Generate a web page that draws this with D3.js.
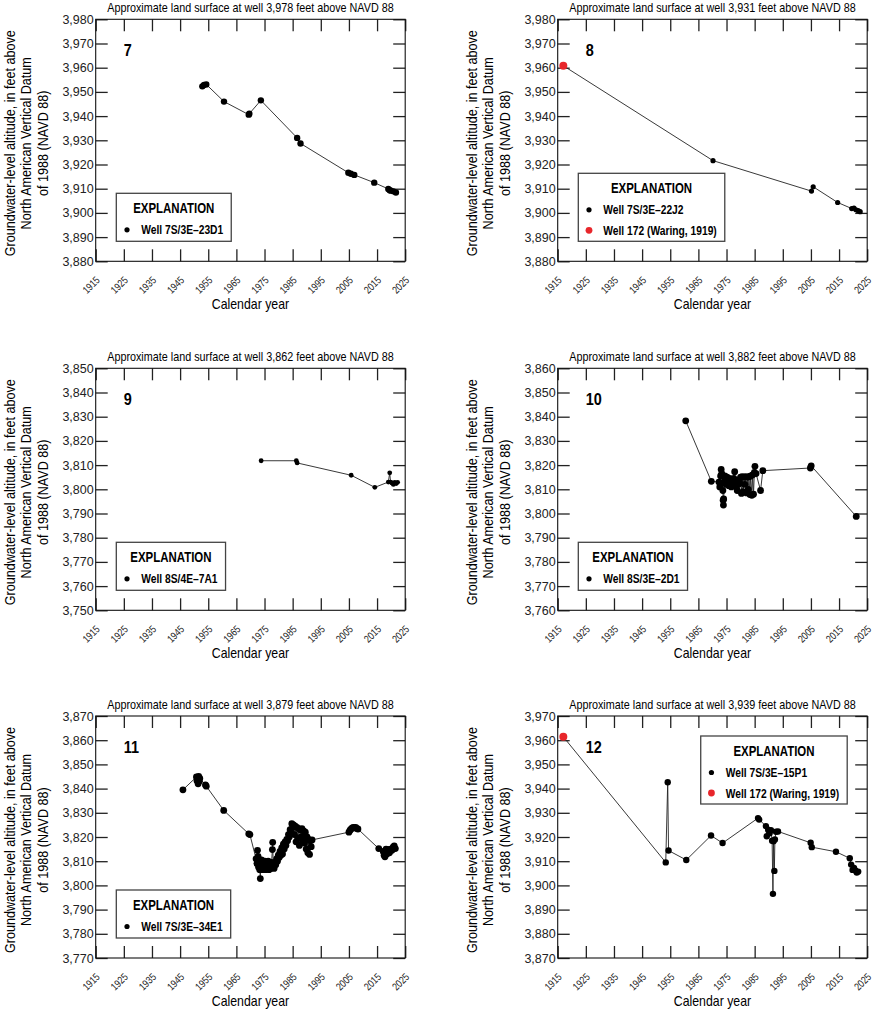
<!DOCTYPE html>
<meta charset="utf-8">
<title>Groundwater-level altitude, wells 7 to 12</title>
<style>

body {
  margin: 0px;
  background: #fff;
}

svg {
  display: block;
  font-family: "Liberation Sans", Arial, sans-serif;
}

.frame {
  fill: none;
  stroke: #111;
  stroke-width: 1.1;
}

.axis path {
  display: none;
}

.axis line {
  stroke: #222;
  stroke-width: 1.3;
}

.axis text {
  fill: #222;
}

.hydro {
  fill: none;
  stroke: #222;
  stroke-width: 0.9;
}

.legend rect {
  fill: #fff;
  stroke: #444;
  stroke-width: 1.3;
}

</style>
<body>
<script src="https://cdnjs.cloudflare.com/ajax/libs/d3/7.8.5/d3.min.js"></script>
<script>

var width = 877, height = 1012;

// x axis: calendar years
var yearTicks = [1915, 1925, 1935, 1945, 1955, 1965, 1975, 1985, 1995, 2005, 2015, 2025];

// land-surface altitude, feet above NAVD 88
var landSurface = ["3,978", "3,931", "3,862", "3,882", "3,879", "3,939"];

// y ranges, feet above NAVD 88
var yRanges = [[3880, 3980], [3880, 3980], [3750, 3850], [3760, 3860], [3770, 3870], [3870, 3970]];

var wellNames = ["Well 7S/3E\u201323D1", "Well 7S/3E\u201322J2", "Well 8S/4E\u20137A1",
                 "Well 8S/3E\u20132D1", "Well 7S/3E\u201334E1", "Well 7S/3E\u201315P1"];
var waringName = "Well 172 (Waring, 1919)";

// [year, altitude]
var well7 = [
  [1952.9, 3952.3], [1953.5, 3952.9], [1954.3, 3953.1], [1960.6, 3946.0],
  [1969.4, 3940.6], [1969.6, 3941.0], [1973.7, 3946.5], [1986.6, 3931.0],
  [1987.8, 3928.7], [2004.8, 3916.6], [2005.7, 3916.2], [2006.9, 3915.7],
  [2014.0, 3912.5], [2019.0, 3909.9], [2019.5, 3909.4], [2019.9, 3909.2],
  [2020.8, 3908.9], [2021.7, 3908.4]
];

var well8 = [
  [1970.2, 3921.6], [2005.2, 3909.0], [2005.8, 3910.8], [2014.5, 3904.3],
  [2019.5, 3901.8], [2020.3, 3902.0], [2021.0, 3901.3], [2021.8, 3900.9],
  [2022.5, 3900.5]
];
var waring8 = [[1917.0, 3960.8]];

var well9 = [
  [1973.8, 3811.8], [1986.3, 3811.8], [1986.6, 3810.9], [2005.8, 3805.8],
  [2014.2, 3800.8], [2019.0, 3803.0], [2019.5, 3806.8], [2019.8, 3803.0],
  [2020.3, 3802.6], [2020.8, 3802.0], [2021.3, 3802.8], [2021.8, 3802.4],
  [2022.3, 3802.9]
];

var well10 = [
  [1960.5, 3838.3], [1969.6, 3813.3], [1972.3, 3813.0], [1972.6, 3811.0],
  [1972.9, 3815.5], [1973.1, 3818.2], [1973.3, 3816.5], [1973.5, 3812.5],
  [1973.7, 3809.5], [1973.8, 3805.5], [1973.9, 3803.5], [1974.0, 3806.0],
  [1974.2, 3813.0], [1974.4, 3815.5], [1974.6, 3814.0], [1974.9, 3812.0],
  [1975.2, 3815.0], [1975.5, 3813.5], [1975.8, 3811.5], [1976.1, 3814.5],
  [1976.4, 3813.0], [1976.7, 3811.0], [1977.0, 3813.5], [1977.3, 3812.0],
  [1977.6, 3814.5], [1977.9, 3817.3], [1978.2, 3813.0], [1978.5, 3811.0],
  [1978.8, 3809.5], [1979.1, 3812.0], [1979.4, 3814.0], [1979.7, 3812.5],
  [1980.0, 3815.0], [1980.3, 3808.3], [1980.6, 3815.2], [1980.9, 3809.0],
  [1981.2, 3815.0], [1981.5, 3812.0], [1981.8, 3815.2], [1982.1, 3808.5],
  [1982.4, 3815.0], [1982.7, 3810.0], [1983.0, 3815.2], [1983.3, 3807.8],
  [1983.6, 3815.5], [1984.0, 3807.5], [1984.3, 3816.0], [1984.6, 3808.0],
  [1984.9, 3817.0], [1985.1, 3819.5], [1985.5, 3816.5], [1987.1, 3809.5],
  [1987.9, 3817.7], [2004.8, 3818.8], [2005.1, 3819.7], [2021.1, 3798.8]
];

var well11 = [
  [1946.0, 3839.5], [1950.8, 3844.8], [1951.0, 3843.2], [1951.2, 3844.5],
  [1951.4, 3842.0], [1951.6, 3845.0], [1951.8, 3843.0], [1952.0, 3844.2],
  [1954.0, 3841.5], [1954.3, 3841.0], [1960.5, 3831.0], [1969.4, 3821.3],
  [1969.8, 3821.0], [1972.0, 3811.0], [1972.3, 3809.0], [1972.5, 3814.5],
  [1972.7, 3812.0], [1972.9, 3807.5], [1973.1, 3810.5], [1973.3, 3806.5],
  [1973.5, 3802.8], [1973.7, 3808.0], [1973.9, 3810.5], [1974.2, 3806.5],
  [1974.5, 3809.5], [1974.8, 3807.0], [1975.1, 3810.0], [1975.4, 3806.5],
  [1975.7, 3809.0], [1976.0, 3807.0], [1976.3, 3810.0], [1976.6, 3806.5],
  [1976.9, 3808.5], [1977.2, 3807.0], [1977.5, 3809.5], [1977.8, 3814.8],
  [1977.9, 3817.8], [1978.1, 3808.0], [1978.4, 3807.0], [1978.7, 3809.5],
  [1979.0, 3808.5], [1979.3, 3811.0], [1979.6, 3810.0], [1979.9, 3812.5],
  [1980.2, 3811.5], [1980.5, 3814.0], [1980.8, 3812.5], [1981.1, 3815.5],
  [1981.4, 3813.0], [1981.7, 3817.0], [1982.0, 3815.0], [1982.3, 3818.0],
  [1982.6, 3816.5], [1982.9, 3819.0], [1983.2, 3818.5], [1983.5, 3821.0],
  [1983.8, 3820.0], [1984.1, 3823.0], [1984.4, 3822.0], [1984.7, 3825.5],
  [1985.0, 3824.0], [1985.3, 3825.0], [1985.6, 3821.0], [1985.9, 3824.5],
  [1986.2, 3818.0], [1986.5, 3824.0], [1986.8, 3819.5], [1987.1, 3823.5],
  [1987.4, 3816.5], [1987.7, 3823.0], [1988.0, 3820.0], [1988.3, 3823.5],
  [1988.6, 3818.0], [1988.9, 3822.5], [1989.2, 3817.5], [1989.5, 3822.0],
  [1989.8, 3815.0], [1990.1, 3820.0], [1990.4, 3813.5], [1990.7, 3819.0],
  [1991.0, 3812.8], [1991.3, 3818.5], [1991.6, 3816.0], [1991.9, 3818.8],
  [2005.0, 3822.0], [2005.4, 3822.8], [2005.8, 3823.3], [2006.2, 3823.8],
  [2006.6, 3824.0], [2007.0, 3823.8], [2007.4, 3824.0], [2007.8, 3823.5],
  [2008.2, 3823.3], [2015.6, 3815.2], [2017.2, 3814.0], [2017.5, 3812.5],
  [2017.8, 3811.8], [2018.2, 3815.0], [2018.5, 3813.0], [2019.0, 3814.8],
  [2019.4, 3813.5], [2019.8, 3815.0], [2020.3, 3814.5], [2020.7, 3815.8],
  [2021.1, 3816.3], [2021.5, 3815.2]
];

var well12 = [
  [1953.4, 3909.5], [1954.1, 3942.6], [1954.4, 3914.4], [1960.7, 3910.5],
  [1969.5, 3920.6], [1973.6, 3917.5], [1986.2, 3927.8], [1986.6, 3927.2],
  [1989.0, 3924.5], [1989.3, 3920.3], [1989.8, 3923.0], [1990.3, 3921.5],
  [1990.8, 3922.8], [1991.2, 3918.5], [1991.5, 3896.5], [1991.7, 3918.2],
  [1992.0, 3906.0], [1992.2, 3919.0], [1992.6, 3922.2], [1993.3, 3922.3],
  [2004.9, 3917.6], [2005.3, 3915.8], [2013.9, 3913.9], [2018.8, 3911.2],
  [2019.3, 3908.6], [2019.8, 3906.4], [2020.3, 3907.2], [2020.8, 3906.2],
  [2021.3, 3905.3], [2021.8, 3905.7]
];
var waring12 = [[1917.0, 3961.4]];

var plotW = 309.5, plotH = 242;
var lefts = [95.7, 557.7], tops = [19.3, 368.3, 716];

var panels = [
  {num: "7",  series: well7,  waring: null,     r: 3.2, corner: "bl"},
  {num: "8",  series: well8,  waring: waring8,  r: 2.6, corner: "bl"},
  {num: "9",  series: well9,  waring: null,     r: 2.4, corner: "bl"},
  {num: "10", series: well10, waring: null,     r: 3.4, corner: "bl"},
  {num: "11", series: well11, waring: null,     r: 3.4, corner: "bl"},
  {num: "12", series: well12, waring: waring12, r: 3.2, corner: "tr"}
];

var red = "#e8262b";

// no condensed face installed: squeeze Liberation Sans horizontally
function squeezed(parent, x, y, size, sx) {
  return parent.append("text")
      .attr("transform", "translate(" + x + "," + y + ") scale(" + sx + ",1)")
      .attr("font-size", size);
}

var svg = d3.select("body").append("svg")
    .attr("width", width)
    .attr("height", height);

var x = d3.scaleLinear()
    .domain([1915, 2025])
    .range([0, plotW]);

var line = d3.line()
    .x(function(d) { return x(d[0]); });

panels.forEach(function(p, i) {
  var g = svg.append("g")
      .attr("transform", "translate(" + lefts[i % 2] + "," + tops[Math.floor(i / 2)] + ")");

  var y = d3.scaleLinear()
      .domain(yRanges[i])
      .range([plotH, 0]);
  var yTicks = d3.range(yRanges[i][0], yRanges[i][1] + 1, 10);

  // ticks on all four sides, pointing in
  g.append("g").attr("class", "axis")
      .attr("transform", "translate(0," + plotH + ")")
      .call(d3.axisBottom(x).tickValues(yearTicks).tickSize(-12).tickFormat(d3.format("d")))
    .selectAll("text")
      .attr("x", 0).attr("y", 0).attr("dy", 0)
      .attr("text-anchor", "end")
      .attr("font-size", 10.5)
      .attr("transform", "translate(4.3,19.5) rotate(-45) scale(0.82,1)");

  g.append("g").attr("class", "axis")
      .call(d3.axisTop(x).tickValues(yearTicks).tickSize(-12).tickFormat(""));

  g.append("g").attr("class", "axis")
      .call(d3.axisLeft(y).tickValues(yTicks).tickSize(-12).tickPadding(2).tickFormat(d3.format(",")))
    .selectAll("text")
      .attr("font-size", 12.5);

  g.append("g").attr("class", "axis")
      .attr("transform", "translate(" + plotW + ",0)")
      .call(d3.axisRight(y).tickValues(yTicks).tickSize(-12).tickFormat(""));

  g.append("rect")
      .attr("class", "frame")
      .attr("width", plotW)
      .attr("height", plotH);

  // titles
  squeezed(g, plotW / 2, -7, 12, 0.9)
      .attr("text-anchor", "middle")
      .text("Approximate land surface at well " + landSurface[i] + " feet above NAVD 88");

  squeezed(g, plotW / 2, plotH + 48, 14, 0.88)
      .attr("text-anchor", "middle")
      .text("Calendar year");

  var yTitle = g.append("text")
      .attr("transform", "translate(0," + (plotH / 2 + 3) + ") rotate(-90) scale(0.84,1)")
      .attr("text-anchor", "middle")
      .attr("font-size", 15);
  ["Groundwater-level altitude, in feet above",
   "North American Vertical Datum",
   "of 1988 (NAVD 88)"].forEach(function(s, k) {
    yTitle.append("tspan")
        .attr("x", 0)
        .attr("y", -81 + k * 16.5)
        .text(s);
  });

  squeezed(g, x(1925), 37, 17, 0.85)
      .attr("font-weight", "bold")
      .text(p.num);

  // data
  var pts = (p.waring || []).concat(p.series);
  g.append("path")
      .attr("class", "hydro")
      .attr("d", line.y(function(d) { return y(d[1]); })(pts));

  g.selectAll("circle.obs")
      .data(p.series)
    .enter().append("circle")
      .attr("class", "obs")
      .attr("cx", function(d) { return x(d[0]); })
      .attr("cy", function(d) { return y(d[1]); })
      .attr("r", p.r)
      .attr("fill", "#000");

  if (p.waring) {
    g.selectAll("circle.waring")
        .data(p.waring)
      .enter().append("circle")
        .attr("class", "waring")
        .attr("cx", function(d) { return x(d[0]); })
        .attr("cy", function(d) { return y(d[1]); })
        .attr("r", 4)
        .attr("fill", red);
  }

  // legend
  var items = [{label: wellNames[i], color: "#000", r: 2.6}];
  if (p.waring) items.push({label: waringName, color: red, r: 3.4});

  var lg = g.append("g").attr("class", "legend");
  var box = lg.append("rect");
  var title = squeezed(lg, 0, 19.5, 14.5, 0.79)
      .attr("text-anchor", "middle")
      .attr("font-weight", "bold")
      .text("EXPLANATION");

  var maxW = 0;
  items.forEach(function(it, k) {
    lg.append("circle")
        .attr("cx", 10.7)
        .attr("cy", 36.5 + k * 20.5)
        .attr("r", it.r)
        .attr("fill", it.color);
    var t = squeezed(lg, 25, 36.5 + k * 20.5, 13, 0.79)
        .attr("dy", "0.36em")
        .attr("font-weight", "bold")
        .text(it.label);
    maxW = Math.max(maxW, t.node().getComputedTextLength() * 0.79);
  });

  var bw = Math.max(25 + maxW + 8, title.node().getComputedTextLength() * 0.79 + 20);
  var bh = 28 + 20 * items.length;
  box.attr("width", bw).attr("height", bh);
  title.attr("transform", "translate(" + (bw / 2) + ",19.5) scale(0.79,1)");

  var lx = p.corner === "tr" ? plotW - 20 - bw : 20.6;
  var ly = p.corner === "tr" ? 20 : plotH - 20 - bh;
  lg.attr("transform", "translate(" + lx + "," + ly + ")");
});

</script>
